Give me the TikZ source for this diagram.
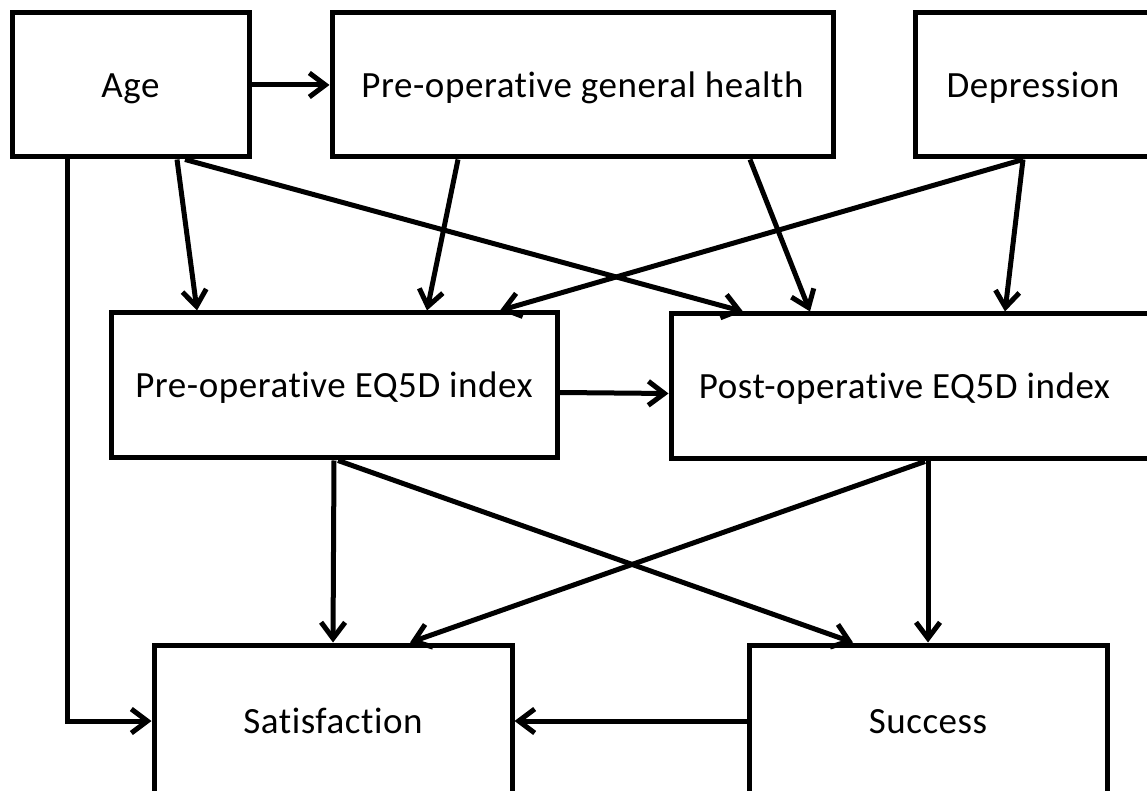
\documentclass[tikz,border=0pt]{standalone}
\usepackage{fontspec}
\setmainfont{Carlito}[Ligatures=NoCommon,LetterSpace=1.5]
\usetikzlibrary{arrows.meta}

\begin{document}
\begin{tikzpicture}[x=0.5pt,y=-0.5pt,
    box/.style={draw,line width=2.5pt,inner sep=0pt,minimum height=72pt,
        text height=12.5pt,text depth=0pt,font=\fontsize{18.5}{22}\selectfont},
    >={Straight Barb[length=8pt,width=12pt]}]

        \useasboundingbox (0,0) rectangle (1147,791);

        \node[box,minimum width=118.5pt] (age) at (130.5,85) {Age};
        \node[box,minimum width=250.5pt] (pgh) at (582.5,85) {Pre-operative general health};
        \node[box,minimum width=118pt] (dep) at (1033,85) {Depression};
        \node[box,minimum width=223pt,minimum height=72.5pt] (pre) at (334,385.5) {Pre-operative EQ5D index};
        \node[box,minimum width=241.5pt,minimum height=72.5pt] (post) at (912.5,386.5) {\hspace*{-8pt}Post-operative EQ5D index};
        \node[box,minimum width=179pt,minimum height=76pt] (sat) at (333,721) {Satisfaction};
        \node[box,minimum width=179pt,minimum height=76pt] (suc) at (928,721) {Success};

        \path[->,line width=2.5pt]
        (age.east) edge (pgh.west)
        ([xshift=-31.75pt]age.south) edge[to path={|- (\tikztotarget)}] (sat.west)
        ([xshift=23.25pt]age.south) edge ([xshift=-68.5pt]pre.north)
        ([xshift=27.25pt]age.south) edge ([xshift=-84.75pt]post.north)
        ([xshift=-62.25pt]pgh.south) edge ([xshift=46.5pt]pre.north)
        ([xshift=83.75pt]pgh.south) edge ([xshift=-51.25pt]post.north)
        ([xshift=-5pt]dep.south) edge ([xshift=83pt]pre.north)
        ([xshift=-5pt]dep.south) edge ([xshift=46.25pt]post.north)
        ([yshift=-3.5pt]pre.east) edge ([yshift=-3.5pt]post.west)
        (pre.south) edge (sat.north)
        ([xshift=2pt]pre.south) edge ([xshift=-37.5pt]suc.north)
        ([xshift=6.25pt]post.south) edge ([xshift=38.5pt]sat.north)
        ([xshift=7.75pt]post.south) edge (suc.north)
        (suc.west) edge (sat.east);
    \end{tikzpicture}
\end{document}
